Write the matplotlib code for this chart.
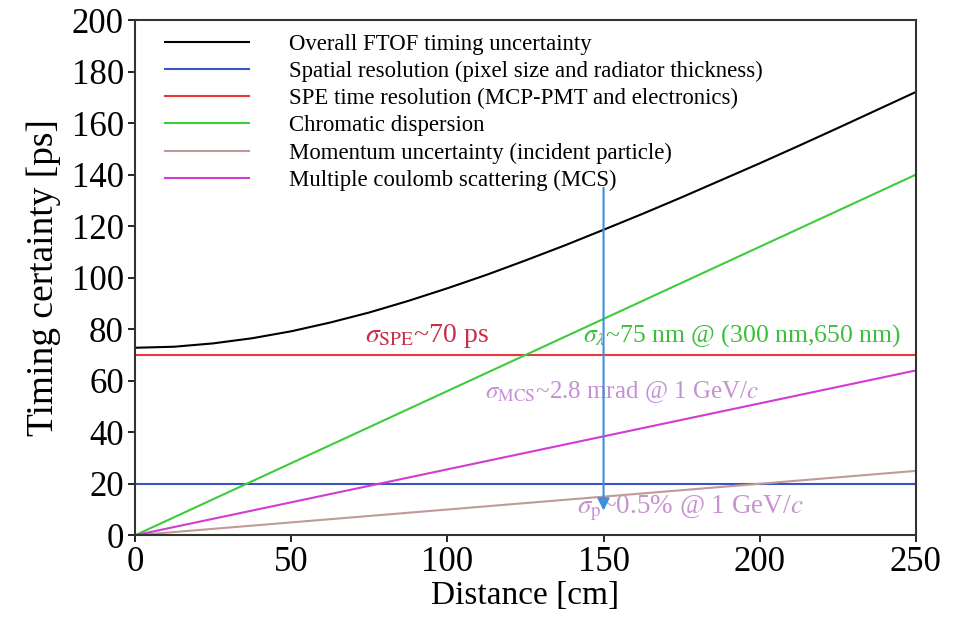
import numpy as np
import matplotlib.pyplot as plt

plt.rcParams['font.family'] = 'Liberation Serif'
plt.rcParams['mathtext.fontset'] = 'stix'

# overall curve [cm] -> [ps]
dist = [0, 12.5, 25, 37.5, 50, 62.5, 75, 87.5, 100, 112.5, 125,
        137.5, 150, 162.5, 175, 187.5, 200, 212.5, 225, 237.5, 250]
overall = [72.8, 73.2, 74.5, 76.5, 79.2, 82.6, 86.5, 91.0, 95.9, 101.1, 106.7,
           112.5, 118.6, 124.8, 131.2, 137.8, 144.4, 151.2, 158.1, 165.1, 172.1]

# straight contributions, end points only
ends = [0, 250]
spatial = [20, 20]
spe = [70, 70]
chromatic = [0, 140]
momentum = [0, 25]
mcs = [0, 64]

labels = [
    "Overall FTOF timing uncertainty",
    "Spatial resolution (pixel size and radiator thickness)",
    "SPE time resolution (MCP-PMT and electronics)",
    "Chromatic dispersion",
    "Momentum uncertainty (incident particle)",
    "Multiple coulomb scattering (MCS)",
]

fig, ax = plt.subplots(figsize=(9.58, 6.29), dpi=100)
fig.subplots_adjust(left=0.141, right=0.956, bottom=0.149, top=0.968)

ax.plot(dist, overall, color="black", lw=1.5, label=labels[0])
ax.plot(ends, spatial, color="#3a55c0", lw=1.5, label=labels[1])
ax.plot(ends, spe, color="#e8383c", lw=1.5, label=labels[2])
ax.plot(ends, chromatic, color="#3ccc3c", lw=1.5, label=labels[3])
ax.plot(ends, momentum, color="#c09a98", lw=1.5, label=labels[4])
ax.plot(ends, mcs, color="#d23cd2", lw=1.5, label=labels[5])

# annotations
ax.text(73.5, 77.5, r"$\sigma_{\rm SPE}$~70 ps", color="#c8304a", fontsize=20, va="center")
ax.text(143.5, 77.5, r"$\sigma_{\lambda}$~75 nm @ (300 nm,650 nm)", color="#3cbf3c",
        fontsize=18.5, va="center")
ax.text(112, 55.5, r"$\sigma_{\rm MCS}$~2.8 mrad @ 1 GeV/$c$", color="#c68fd6",
        fontsize=18, va="center")
ax.text(141.5, 10.3, r"$\sigma_{\rm p}$~0.5% @ 1 GeV/$c$", color="#c793cf",
        fontsize=19.5, va="center")

ax.annotate("", xy=(150, 8.5), xytext=(150, 136),
            arrowprops=dict(arrowstyle="-|>", color="#3f8fd8", lw=1.5,
                            mutation_scale=18))

ax.set_xlim(0, 250)
ax.set_ylim(0, 200)
ax.set_xticks(np.arange(0, 251, 50))
ax.set_yticks(np.arange(0, 201, 20))
ax.tick_params(labelsize=25, direction="out", length=5, width=1.2, pad=3,
               top=False, right=False)
for s in ax.spines.values():
    s.set_linewidth(1.5)
    s.set_color("#333333")

ax.set_xlabel("Distance [cm]", fontsize=24, labelpad=1)
ax.set_ylabel("Timing certainty [ps]", fontsize=27, labelpad=8)

ax.legend(loc="upper left", frameon=False, fontsize=16.4, handlelength=3.7,
          handletextpad=1.75, labelspacing=0.27, borderaxespad=0, borderpad=0,
          bbox_to_anchor=(0.038, 0.974))

fig.savefig("out.png", dpi=100)
